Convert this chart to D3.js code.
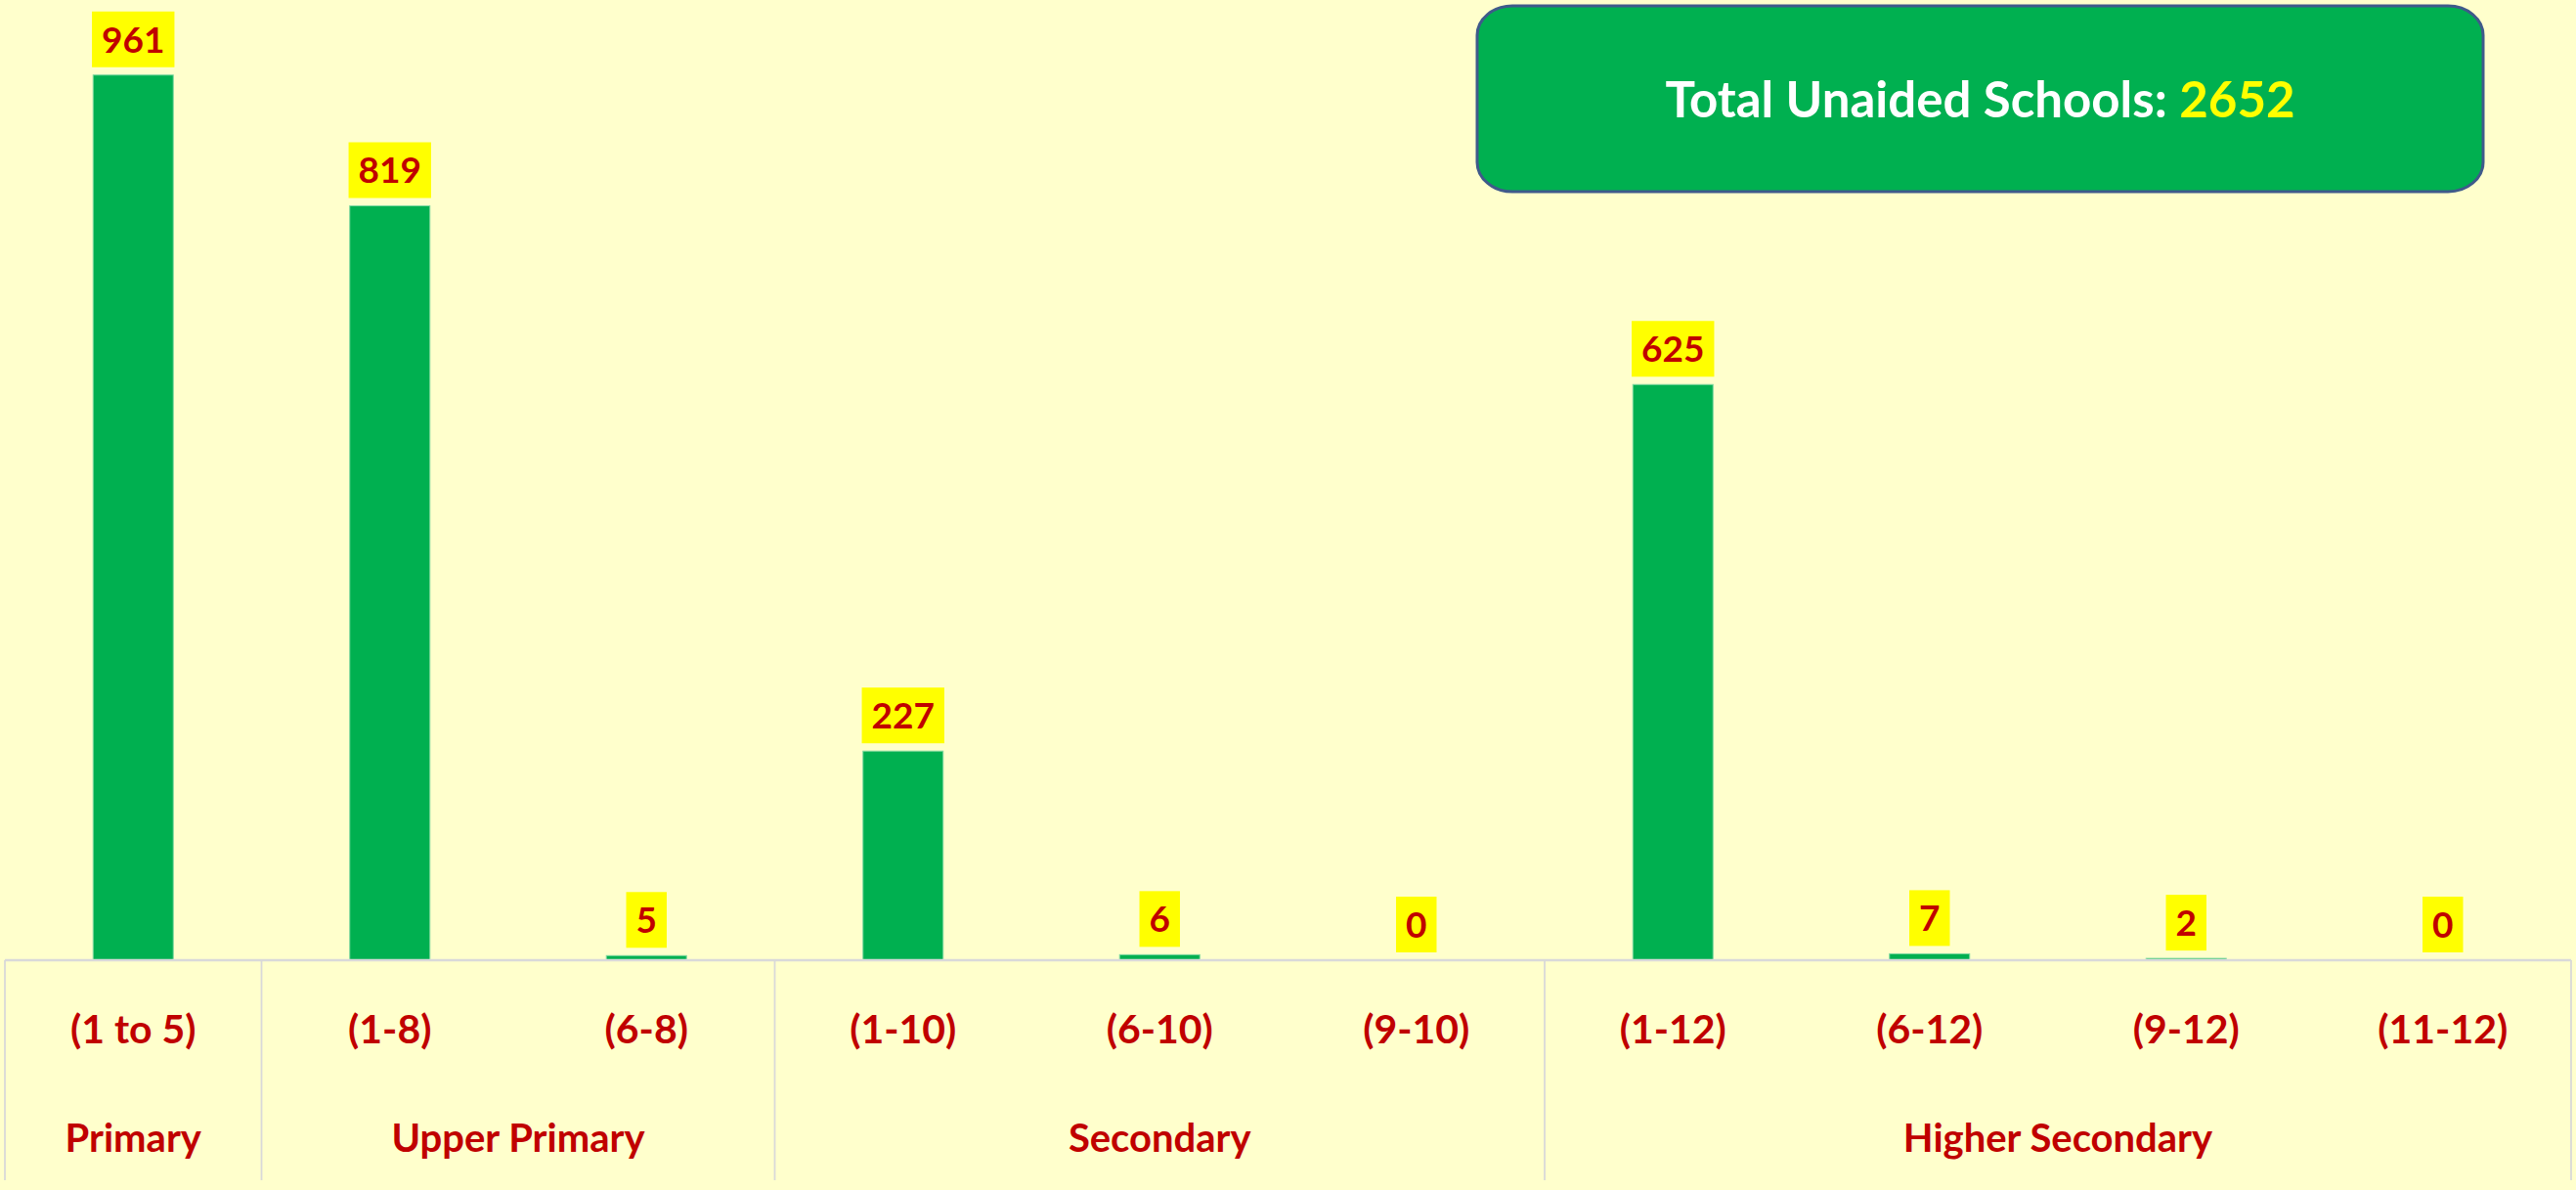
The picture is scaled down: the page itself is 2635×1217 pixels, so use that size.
<!DOCTYPE html>
<html>
<head>
<meta charset="utf-8">
<script src="https://cdn.jsdelivr.net/npm/d3@7"></script>
<style>
  html, body { margin: 0; padding: 0; background: #ffffcc; }
  svg { display: block; }
  text { font-family: Lato, "Open Sans", sans-serif; font-weight: 700; }
</style>
</head>
<body>
<svg id="chart" width="2635" height="1217"></svg>
<script>
// ---- data ----
const categories = ["(1 to 5)", "(1-8)", "(6-8)", "(1-10)", "(6-10)", "(9-10)", "(1-12)", "(6-12)", "(9-12)", "(11-12)"];
const values = [961, 819, 5, 227, 6, 0, 625, 7, 2, 0];
const groups = ["Primary", "Upper Primary", "Secondary", "Higher Secondary"];
const groupSizes = [1, 2, 3, 4];
const titleText = "Total Unaided Schools: ";
const totalValue = 2652;

// ---- layout ----
const W = 2635, H = 1217;
const plotLeft = 5, plotRight = 2630, baseY = 982, plotTop = 40;
const svg = d3.select("#chart");
svg.append("rect").attr("width", W).attr("height", H).attr("fill", "#ffffcc");

const xCell = d3.scaleBand().domain(categories).range([plotLeft, plotRight]).padding(0);
const x = d3.scaleBand().domain(categories).range([plotLeft, plotRight])
  .paddingInner(0.6876).paddingOuter(0.6876 / 2);
const y = d3.scaleLinear().domain([0, 1000]).range([baseY, plotTop]);

const data = categories.map((c, i) => ({ cat: c, val: values[i] }));

// bars
svg.append("g").selectAll("rect").data(data).join("rect")
  .attr("x", d => x(d.cat))
  .attr("y", d => y(d.val))
  .attr("width", x.bandwidth())
  .attr("height", d => baseY - y(d.val))
  .attr("fill", "#00b050")
  .attr("stroke", "#7fd8a0")
  .attr("stroke-width", d => d.val > 0 ? 1 : 0);

// axis line + group separators
const axisColor = "#d9d9d9";
svg.append("line").attr("x1", plotLeft).attr("x2", plotRight)
  .attr("y1", baseY).attr("y2", baseY)
  .attr("stroke", axisColor).attr("stroke-width", 2.5);

const groupStarts = [];
let acc = 0;
groupSizes.forEach(s => { groupStarts.push(acc); acc += s; });
const sepX = groupStarts.map(i => xCell(categories[i])).concat([plotRight]);
svg.append("g").selectAll("line").data(sepX).join("line")
  .attr("x1", d => d).attr("x2", d => d)
  .attr("y1", baseY).attr("y2", 1207)
  .attr("stroke", axisColor).attr("stroke-width", 1.8);

// category labels
svg.append("g").selectAll("text").data(categories).join("text")
  .attr("x", d => xCell(d) + xCell.bandwidth() / 2)
  .attr("y", 1067)
  .attr("text-anchor", "middle")
  .attr("font-size", 41)
  .attr("fill", "#c00000")
  .text(d => d);

// group labels
svg.append("g").selectAll("text").data(groups).join("text")
  .attr("x", (g, i) => {
    const a = xCell(categories[groupStarts[i]]);
    const b = xCell(categories[groupStarts[i] + groupSizes[i] - 1]) + xCell.bandwidth();
    return (a + b) / 2;
  })
  .attr("y", 1178)
  .attr("text-anchor", "middle")
  .attr("font-size", 40)
  .attr("fill", "#c00000")
  .text(d => d);

// value labels
const lblFont = 37, boxH = 57, gap = 8, padX = 10;
const lg = svg.append("g").selectAll("g").data(data).join("g");
lg.append("rect").attr("class", "lbox").attr("fill", "#ffff00");
lg.append("text")
  .attr("text-anchor", "middle")
  .attr("font-size", lblFont)
  .attr("fill", "#c00000")
  .attr("x", d => x(d.cat) + x.bandwidth() / 2)
  .attr("y", d => y(d.val) - gap - boxH / 2 + lblFont * 0.36)
  .text(d => d.val);
lg.each(function(d) {
  const g = d3.select(this);
  const tw = g.select("text").node().getComputedTextLength();
  const cx = x(d.cat) + x.bandwidth() / 2;
  g.select("rect")
    .attr("x", cx - tw / 2 - padX)
    .attr("width", tw + 2 * padX)
    .attr("y", y(d.val) - gap - boxH)
    .attr("height", boxH);
});

// total box
const bx = 1511, by = 6, bw = 1029, bh = 190;
svg.append("rect").attr("x", bx).attr("y", by).attr("width", bw).attr("height", bh)
  .attr("rx", 36).attr("ry", 30)
  .attr("fill", "#00b050").attr("stroke", "#3f5a8a").attr("stroke-width", 3);
const t = svg.append("text")
  .attr("x", bx + bw / 2).attr("y", 120)
  .attr("text-anchor", "middle")
  .attr("font-size", 51);
t.append("tspan").attr("fill", "#ffffff").text(titleText);
t.append("tspan").attr("fill", "#ffff00").text(totalValue);
</script>
</body>
</html>
